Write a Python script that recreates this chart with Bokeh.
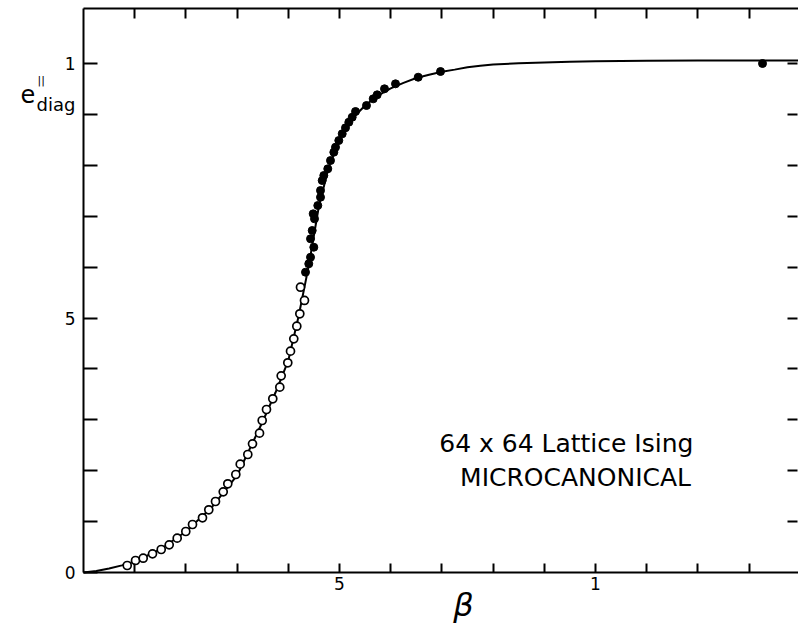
from bokeh.plotting import figure
from bokeh.models import (LinearAxis, FixedTicker, CustomJSTickFormatter, Range1d, Label)
from bokeh.embed import file_html
from bokeh.resources import INLINE

# ---- data ----
beta_open = [0.0854, 0.1016, 0.1166, 0.1348, 0.1518, 0.1674, 0.1830, 0.1998, 0.2129,
             0.2324, 0.2447, 0.2578, 0.2729, 0.2818, 0.2975, 0.3061, 0.3209, 0.3301,
             0.3438, 0.3490, 0.3574, 0.3697, 0.3834, 0.3861, 0.3990, 0.4043, 0.4107,
             0.4166, 0.4225, 0.4316, 0.4238]
e_open = [0.0138, 0.0236, 0.0281, 0.0367, 0.0452, 0.0544, 0.0674, 0.0806, 0.0943,
          0.1075, 0.1232, 0.1395, 0.1585, 0.1743, 0.1925, 0.2128, 0.2318, 0.2528,
          0.2737, 0.2986, 0.3202, 0.3413, 0.3641, 0.3864, 0.4120, 0.4348, 0.4591,
          0.4839, 0.5083, 0.5345, 0.5605]

beta_filled = [0.4336, 0.4400, 0.4434, 0.4498, 0.4434, 0.4467, 0.4512, 0.4486, 0.4576,
               0.4629, 0.4629, 0.4662, 0.4693, 0.4771, 0.4824, 0.4889, 0.4922, 0.4986,
               0.5053, 0.5117, 0.5182, 0.5248, 0.5313, 0.5527, 0.5658, 0.5736, 0.5879,
               0.6094, 0.6537, 0.6973, 1.3262]
e_filled = [0.5900, 0.6065, 0.6194, 0.6391, 0.6556, 0.6719, 0.6949, 0.7047, 0.7210,
            0.7373, 0.7505, 0.7701, 0.7800, 0.7931, 0.8094, 0.8257, 0.8356, 0.8487,
            0.8619, 0.8737, 0.8847, 0.8945, 0.9057, 0.9175, 0.9306, 0.9385, 0.9503,
            0.9601, 0.9731, 0.9843, 1.0000]

beta_fit = [0.0, 0.025, 0.05, 0.075, 0.10, 0.15, 0.20, 0.25, 0.30, 0.35, 0.375, 0.40,
            0.42, 0.44, 0.46, 0.48, 0.50, 0.525, 0.55, 0.575, 0.60, 0.625, 0.65, 0.675,
            0.70, 0.725, 0.75, 0.775, 0.80, 0.85, 0.90, 0.95, 1.0, 1.1, 1.2, 1.4]
e_fit = [0.0, 0.003, 0.0079, 0.0140, 0.0216, 0.0452, 0.0806, 0.1277, 0.1906, 0.2967,
         0.3536, 0.4165, 0.503, 0.603, 0.721, 0.800, 0.849, 0.892, 0.9175, 0.937,
         0.951, 0.962, 0.9715, 0.978, 0.984, 0.988, 0.9925, 0.9955, 0.998, 1.0005,
         1.002, 1.0035, 1.0045, 1.0055, 1.006, 1.006]

x_ticks = [0.1, 0.2, 0.3, 0.4, 0.5, 0.6, 0.7, 0.8, 0.9, 1.0, 1.1, 1.2, 1.3]
x_label_vals = [0.5, 1.0]
x_label_text = ["5", "1"]
y_ticks = [0.0, 0.1, 0.2, 0.3, 0.4, 0.5, 0.6, 0.7, 0.8, 0.9, 1.0]
y_label_vals = [0.0, 0.5, 1.0]
y_label_text = ["0", "5", "1"]

X_MIN, X_MAX = 0.0, 1.3945      # axis box (beta)
Y_MIN, Y_MAX = 0.0, 1.108       # axis box (e)

FONT = "DejaVu Sans"

# the frame spans the whole canvas; the axes sit inside it at fixed locations
p = figure(width=798, height=628, x_range=Range1d(-0.16211, 1.39648),
           y_range=Range1d(-0.11002, 1.1238),
           output_backend="svg", toolbar_location=None,
           x_axis_location=None, y_axis_location=None, min_border=0)
p.grid.visible = False
p.outline_line_color = None
p.background_fill_color = "white"
p.border_fill_color = "white"

code = """
for (let i = 0; i < vals.length; i++) {
  if (Math.abs(tick - vals[i]) < 1e-6) return labs[i];
}
return "";
"""
blank = CustomJSTickFormatter(code='return "";')


def style(ax, tick_in, line=True):
    ax.major_tick_in = tick_in
    ax.major_tick_out = 0
    ax.minor_tick_in = 0
    ax.minor_tick_out = 0
    ax.major_tick_line_width = 2
    ax.axis_line_width = 2
    if not line:
        ax.axis_line_color = None
    ax.major_label_text_font = FONT
    ax.major_label_text_color = "black"


left = LinearAxis(ticker=FixedTicker(ticks=y_ticks, minor_ticks=[]),
                  formatter=CustomJSTickFormatter(args=dict(vals=y_label_vals, labs=y_label_text), code=code),
                  fixed_location=X_MIN, bounds=(Y_MIN, Y_MAX))
style(left, 14)
left.major_label_text_font_size = "17px"
left.major_label_standoff = 8
p.add_layout(left, "left")

below = LinearAxis(ticker=FixedTicker(ticks=x_ticks, minor_ticks=[]),
                   formatter=CustomJSTickFormatter(args=dict(vals=x_label_vals, labs=x_label_text), code=code),
                   fixed_location=Y_MIN, bounds=(X_MIN, 1.4))
style(below, 9)
below.major_label_text_font_size = "17px"
below.major_label_standoff = 4
p.add_layout(below, "below")

top = LinearAxis(ticker=FixedTicker(ticks=x_ticks, minor_ticks=[]), formatter=blank,
                 fixed_location=Y_MAX, bounds=(X_MIN, 1.4))
style(top, 10)
top.major_label_text_font_size = "1px"
top.major_label_standoff = 0
p.add_layout(top, "above")

right = LinearAxis(ticker=FixedTicker(ticks=y_ticks[1:], minor_ticks=[]), formatter=blank,
                   fixed_location=X_MAX, bounds=(Y_MIN, Y_MAX))
style(right, 10, line=False)
right.major_label_text_font_size = "1px"
right.major_label_standoff = 0
p.add_layout(right, "right")

p.line(beta_fit, e_fit, line_width=2, line_color="black")
p.scatter(beta_open, e_open, marker="circle", size=8, fill_color="white",
          line_color="black", line_width=1.7)
p.scatter(beta_filled, e_filled, marker="circle", size=8, fill_color="black",
          line_color="black")

# annotation text
p.add_layout(Label(x=0.943, y=0.2534, text="64 x 64 Lattice Ising", text_align="center",
                   text_baseline="alphabetic", text_font=FONT, text_font_size="25px",
                   text_color="black"))
p.add_layout(Label(x=0.961, y=0.1866, text="MICROCANONICAL", text_align="center",
                   text_baseline="alphabetic", text_font=FONT, text_font_size="25px",
                   text_color="black"))

# axis titles
p.add_layout(Label(x=0.742, y=-0.0648, text="β", text_align="center", text_baseline="middle",
                   text_font=FONT, text_font_style="italic", text_font_size="32px",
                   text_color="black"))
p.add_layout(Label(x=-0.123, y=0.941, text="e", text_align="left", text_baseline="alphabetic",
                   text_font=FONT, text_font_size="24px", text_color="black"))
p.add_layout(Label(x=-0.0898, y=0.9666, text="||", text_align="left", text_baseline="alphabetic",
                   text_font=FONT, text_font_size="11px", text_color="black"))
p.add_layout(Label(x=-0.0918, y=0.9194, text="diag", text_align="left", text_baseline="alphabetic",
                   text_font=FONT, text_font_size="18px", text_color="black"))

open("out.html", "w").write(file_html(p, INLINE))
